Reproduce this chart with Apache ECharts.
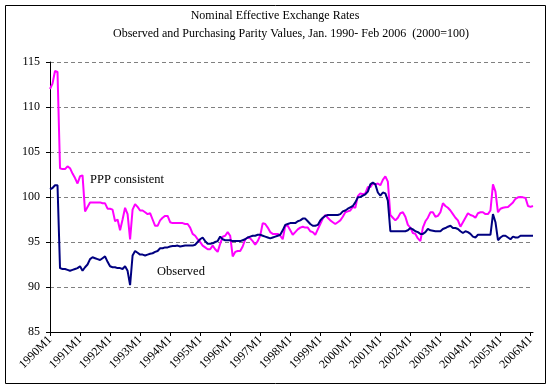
<!DOCTYPE html>
<html>
<head>
<meta charset="utf-8">
<script src="https://cdn.jsdelivr.net/npm/echarts@6/dist/echarts.min.js"></script>
<style>
html,body{margin:0;padding:0;background:#fff;}
#c{width:551px;height:388px;}
</style>
</head>
<body>
<div id="c"></div>
<script>
var startYear = 1990;
var endYear = 2006;
var endMonth = 2;
var yTicks = [85, 90, 95, 100, 105, 110, 115];
var titleLine1 = 'Nominal Effective Exchange Rates';
var titleLine2 = 'Observed and Purchasing Parity Values, Jan. 1990- Feb 2006  (2000=100)';
var pppLabel = 'PPP consistent';
var obsLabel = 'Observed';

var ppp = [
112.0,112.6,114.0,113.9,103.2,103.1,103.1,103.4,103.2,102.6,102.1,101.5,
102.3,102.4,98.4,98.9,99.4,99.4,99.4,99.4,99.4,99.3,99.3,98.7,
98.7,98.6,97.3,97.5,96.3,97.5,98.8,98.1,95.3,98.6,99.2,98.9,
98.5,98.5,98.3,98.1,98.2,97.5,96.8,96.8,97.4,97.7,97.9,97.9,
97.2,97.1,97.1,97.1,97.1,97.1,97.0,97.0,96.6,95.9,95.7,95.3,
95.0,94.6,94.4,94.2,94.2,94.6,94.2,93.9,94.8,95.6,95.7,96.1,
95.7,93.4,93.9,94.0,94.0,94.5,95.3,95.5,95.4,95.1,94.7,95.1,
95.7,97.1,97.0,96.6,96.1,95.9,95.9,95.9,95.7,95.3,96.8,96.8,
96.3,95.8,96.1,96.4,96.6,96.7,96.6,96.6,96.2,96.1,95.8,96.4,
97.0,97.6,98.0,97.7,97.4,97.2,97.0,97.2,97.4,97.8,98.3,98.4,
98.5,98.9,98.8,100.1,100.4,100.3,100.4,101.1,101.1,101.5,101.4,101.5,
101.3,101.9,102.3,101.7,98.0,97.7,97.4,97.7,98.2,98.3,97.8,96.9,
96.6,96.0,95.9,95.4,95.1,96.6,97.3,97.7,98.3,98.3,97.8,97.9,
98.3,99.3,99.0,98.8,98.5,98.1,97.7,97.4,96.7,97.2,97.7,98.2,
98.0,97.9,97.7,98.2,98.3,98.3,98.1,98.1,98.5,101.4,100.6,98.3,
98.7,98.8,98.85,98.9,99.15,99.4,99.8,99.96,100.0,99.96,99.9,99.0,
98.9,99.0
];

var observed = [
100.85,101.0,101.3,101.3,92.1,92.0,92.0,91.9,91.8,91.9,92.0,92.1,
92.3,91.8,92.2,92.5,93.1,93.3,93.2,93.1,93.0,93.2,93.4,92.8,
92.3,92.2,92.2,92.1,92.1,92.0,92.3,91.8,90.2,93.5,94.0,93.8,
93.6,93.6,93.5,93.6,93.7,93.75,93.9,94.0,94.3,94.3,94.4,94.4,
94.5,94.55,94.55,94.6,94.5,94.55,94.6,94.6,94.6,94.6,94.7,95.0,
95.3,95.5,95.1,94.8,94.8,94.85,95.0,95.1,95.6,95.3,95.2,95.2,
95.2,95.1,95.1,95.1,95.1,95.2,95.3,95.5,95.6,95.7,95.7,95.8,
95.8,95.7,95.6,95.5,95.4,95.5,95.6,95.7,95.8,96.3,96.9,97.0,
97.1,97.1,97.1,97.3,97.4,97.6,97.6,97.3,97.0,96.8,96.8,96.9,
97.4,97.7,97.9,98.0,98.0,98.0,98.0,98.0,98.1,98.4,98.5,98.7,
98.85,99.0,99.4,99.96,100.0,100.15,100.3,100.6,101.4,101.6,101.4,100.5,
100.15,100.5,100.4,99.6,96.2,96.2,96.2,96.2,96.2,96.2,96.2,96.3,
96.55,96.4,96.2,96.1,95.9,95.9,96.1,96.45,96.3,96.25,96.2,96.2,
96.2,96.45,96.55,96.7,96.8,96.55,96.55,96.45,96.2,96.0,96.2,96.1,
95.9,95.6,95.5,95.8,95.8,95.8,95.8,95.8,95.8,98.1,97.2,95.2,
95.5,95.7,95.7,95.5,95.3,95.6,95.5,95.5,95.7,95.7,95.7,95.7,
95.7,95.7
];

var categories = [];
for (var y = startYear; y <= endYear; y++) {
  for (var m = 1; m <= 12; m++) {
    if (y === endYear && m > endMonth) break;
    categories.push(y + 'M' + m);
  }
}

var FONT = '"Liberation Serif", "Times New Roman", serif';
var chart = echarts.init(document.getElementById('c'), null, {renderer: 'canvas'});
chart.setOption({
  backgroundColor: '#ffffff',
  animation: false,
  grid: {left: 50, right: 18, top: 62, bottom: 56, containLabel: false},
  xAxis: {
    type: 'category',
    data: categories,
    boundaryGap: false,
    axisLine: {lineStyle: {color: '#000', width: 1}},
    axisTick: {show: true, interval: 11, length: 4, inside: false, lineStyle: {color: '#000'}},
    axisLabel: {interval: 11, rotate: 45, margin: 6, color: '#000', fontFamily: FONT, fontSize: 12},
    splitLine: {show: false}
  },
  yAxis: {
    type: 'value',
    min: yTicks[0],
    max: yTicks[yTicks.length - 1],
    interval: yTicks[1] - yTicks[0],
    axisLine: {show: true, lineStyle: {color: '#000', width: 1}},
    axisTick: {show: true, length: 4, lineStyle: {color: '#000'}},
    axisLabel: {color: '#000', fontFamily: FONT, fontSize: 12, margin: 10},
    splitLine: {show: true, lineStyle: {color: '#808080', type: [4, 3], width: 1}}
  },
  series: [
    {name: 'PPP consistent', type: 'line', data: ppp, showSymbol: false, symbol: 'none',
     lineStyle: {color: '#FF00FF', width: 2}, itemStyle: {color: '#FF00FF'}, z: 2},
    {name: 'Observed', type: 'line', data: observed, showSymbol: false, symbol: 'none',
     lineStyle: {color: '#000080', width: 2}, itemStyle: {color: '#000080'}, z: 3}
  ],
  graphic: [
    {type: 'rect', shape: {x: 5.5, y: 5.5, width: 540, height: 378}, style: {fill: 'none', stroke: '#000', lineWidth: 1}, silent: true, z: -1},
    {type: 'text', x: 275, y: 16, style: {text: titleLine1, align: 'center', verticalAlign: 'middle', font: '12px ' + FONT, fill: '#000'}},
    {type: 'text', x: 291, y: 34, style: {text: titleLine2, align: 'center', verticalAlign: 'middle', font: '12px ' + FONT, fill: '#000'}},
    {type: 'text', x: 90, y: 180, style: {text: pppLabel, align: 'left', verticalAlign: 'middle', font: '12.5px ' + FONT, fill: '#000'}},
    {type: 'text', x: 157, y: 272, style: {text: obsLabel, align: 'left', verticalAlign: 'middle', font: '12.5px ' + FONT, fill: '#000'}}
  ]
});
</script>
</body>
</html>
